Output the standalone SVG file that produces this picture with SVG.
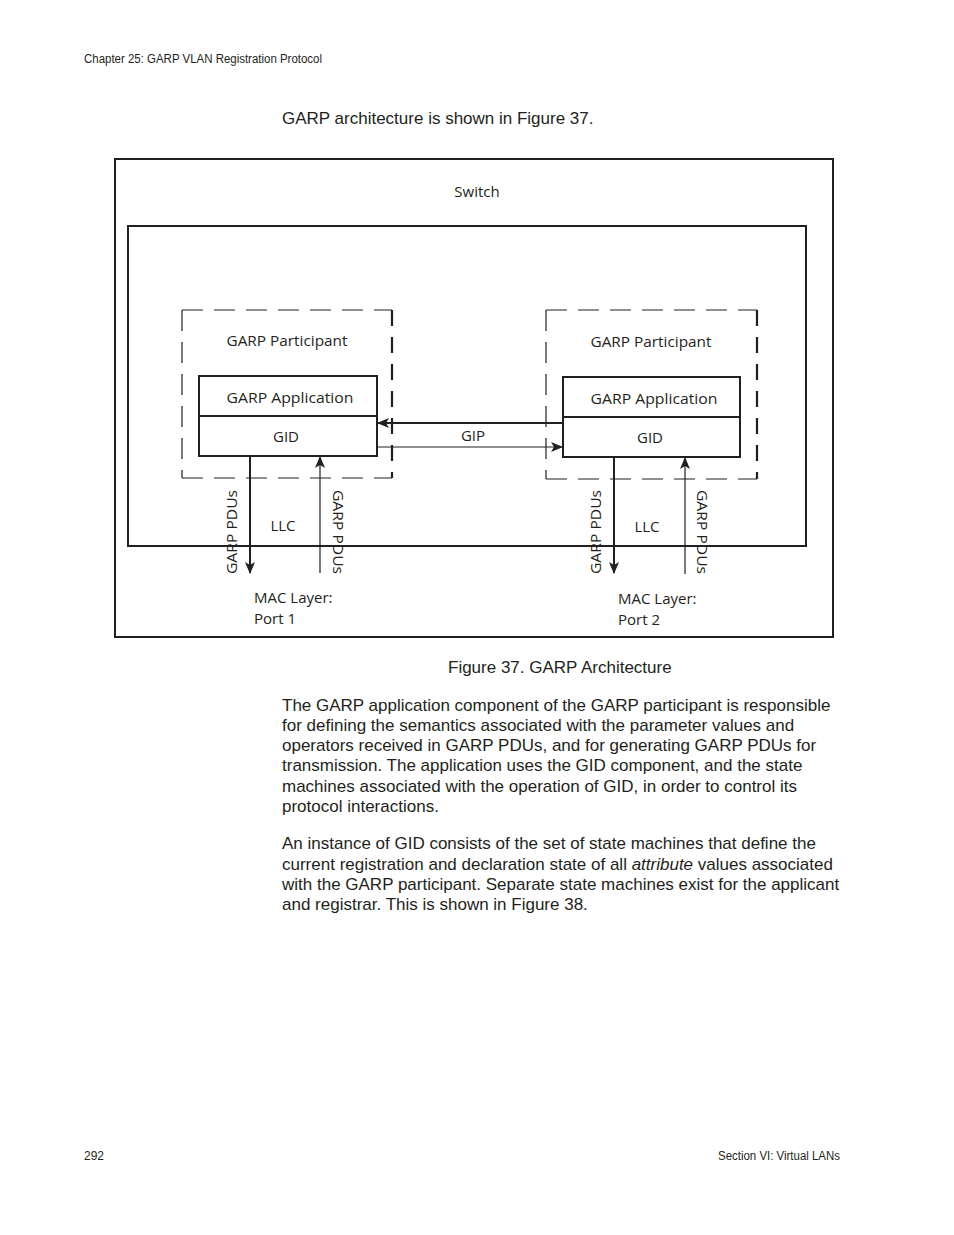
<svg xmlns="http://www.w3.org/2000/svg" width="954" height="1235" viewBox="0 0 954 1235">
<defs>
<style>
.body{font-family:"Liberation Sans",Arial,sans-serif;font-size:17px;fill:#231f20}
.hdr{font-family:"Liberation Sans",Arial,sans-serif;font-size:12px;fill:#231f20}
.lbl{font-family:"Open Sans","Noto Sans",sans-serif;font-size:15px;fill:#231f20}
.box{fill:none;stroke:#231f20;stroke-width:2}
.dash{fill:none;stroke:#231f20;stroke-width:1.2;stroke-dasharray:21 11}
.dashb{fill:none;stroke:#231f20;stroke-width:2.2;stroke-dasharray:16 11}
.ln{fill:none;stroke:#231f20}
</style>
<marker id="ah" viewBox="0 0 12 10" refX="11" refY="5" markerWidth="12" markerHeight="10" markerUnits="userSpaceOnUse" orient="auto">
<path d="M0,0 L12,5 L0,10 L3,5 Z" fill="#231f20"/>
</marker>
</defs>
<rect width="954" height="1235" fill="#fff"/>
<text class="hdr" x="84" y="63" textLength="238" lengthAdjust="spacingAndGlyphs">Chapter 25: GARP VLAN Registration Protocol</text>
<text class="body" x="282" y="124">GARP architecture is shown in Figure 37.</text>

<g id="switch">
<rect class="box" x="115" y="159" width="718" height="478" stroke-width="1.5"/>
<text class="lbl" x="477" y="197" text-anchor="middle">Switch</text>
</g>
<g id="inner">
<rect class="box" x="128" y="226" width="678" height="320"/>
</g>

<g id="participant1">
<path class="dash" d="M182,310 H392 M182,310 V478 M182,478 H392"/>
<path class="dashb" d="M392,310 V478"/>
<text class="lbl" x="287" y="346" text-anchor="middle" textLength="121" lengthAdjust="spacingAndGlyphs">GARP Participant</text>
</g>
<g id="app1">
<rect class="box" x="199" y="376" width="178" height="80"/>
<line class="ln" x1="199" y1="416" x2="377" y2="416" stroke-width="2"/>
<text class="lbl" x="290" y="403" text-anchor="middle" textLength="127" lengthAdjust="spacingAndGlyphs">GARP Application</text>
<text class="lbl" x="286" y="442" text-anchor="middle">GID</text>
</g>

<g id="participant2">
<path class="dash" d="M546,310 H757 M546,310 V479 M546,479 H757"/>
<path class="dashb" d="M757,310 V479"/>
<text class="lbl" x="651" y="347" text-anchor="middle" textLength="121" lengthAdjust="spacingAndGlyphs">GARP Participant</text>
</g>
<g id="app2">
<rect class="box" x="563" y="377" width="177" height="80"/>
<line class="ln" x1="563" y1="417" x2="740" y2="417" stroke-width="2"/>
<text class="lbl" x="654" y="404" text-anchor="middle" textLength="127" lengthAdjust="spacingAndGlyphs">GARP Application</text>
<text class="lbl" x="650" y="443" text-anchor="middle">GID</text>
</g>

<g id="connectors">
<line class="ln" x1="563" y1="423" x2="378" y2="423" stroke-width="2" marker-end="url(#ah)"/>
<line class="ln" x1="377" y1="447" x2="562" y2="447" stroke-width="1.2" marker-end="url(#ah)"/>
<line class="ln" x1="250" y1="456" x2="250" y2="573" stroke-width="2" marker-end="url(#ah)"/>
<line class="ln" x1="320" y1="573" x2="320" y2="457" stroke-width="1.2" marker-end="url(#ah)"/>
<line class="ln" x1="614" y1="457" x2="614" y2="573" stroke-width="2" marker-end="url(#ah)"/>
<line class="ln" x1="685" y1="574" x2="685" y2="458" stroke-width="1.2" marker-end="url(#ah)"/>
</g>

<g id="labels">
<text class="lbl" x="473" y="441" text-anchor="middle">GIP</text>
<text class="lbl" x="283" y="531" text-anchor="middle">LLC</text>
<text class="lbl" x="647" y="532" text-anchor="middle">LLC</text>
<text class="lbl" transform="translate(237,532) rotate(-90)" text-anchor="middle" textLength="84" lengthAdjust="spacingAndGlyphs">GARP PDUs</text>
<text class="lbl" transform="translate(333,532) rotate(90)" text-anchor="middle" textLength="84" lengthAdjust="spacingAndGlyphs">GARP PDUs</text>
<text class="lbl" transform="translate(601,532) rotate(-90)" text-anchor="middle" textLength="84" lengthAdjust="spacingAndGlyphs">GARP PDUs</text>
<text class="lbl" transform="translate(697,532) rotate(90)" text-anchor="middle" textLength="84" lengthAdjust="spacingAndGlyphs">GARP PDUs</text>
<text class="lbl" x="254" y="603">MAC Layer:</text>
<text class="lbl" x="254" y="624">Port 1</text>
<text class="lbl" x="618" y="604">MAC Layer:</text>
<text class="lbl" x="618" y="625">Port 2</text>
</g>

<text class="body" x="448" y="673">Figure 37. GARP Architecture</text>
<g class="body">
<text x="282" y="711">The GARP application component of the GARP participant is responsible</text>
<text x="282" y="731">for defining the semantics associated with the parameter values and</text>
<text x="282" y="751">operators received in GARP PDUs, and for generating GARP PDUs for</text>
<text x="282" y="771">transmission. The application uses the GID component, and the state</text>
<text x="282" y="792">machines associated with the operation of GID, in order to control its</text>
<text x="282" y="812">protocol interactions.</text>
<text x="282" y="849">An instance of GID consists of the set of state machines that define the</text>
<text x="282" y="870">current registration and declaration state of all <tspan font-style="italic">attribute</tspan> values associated</text>
<text x="282" y="890">with the GARP participant. Separate state machines exist for the applicant</text>
<text x="282" y="910">and registrar. This is shown in Figure 38.</text>
</g>
<text class="hdr" x="84" y="1160">292</text>
<text class="hdr" x="840" y="1160" text-anchor="end" textLength="122" lengthAdjust="spacingAndGlyphs">Section VI: Virtual LANs</text>
</svg>
